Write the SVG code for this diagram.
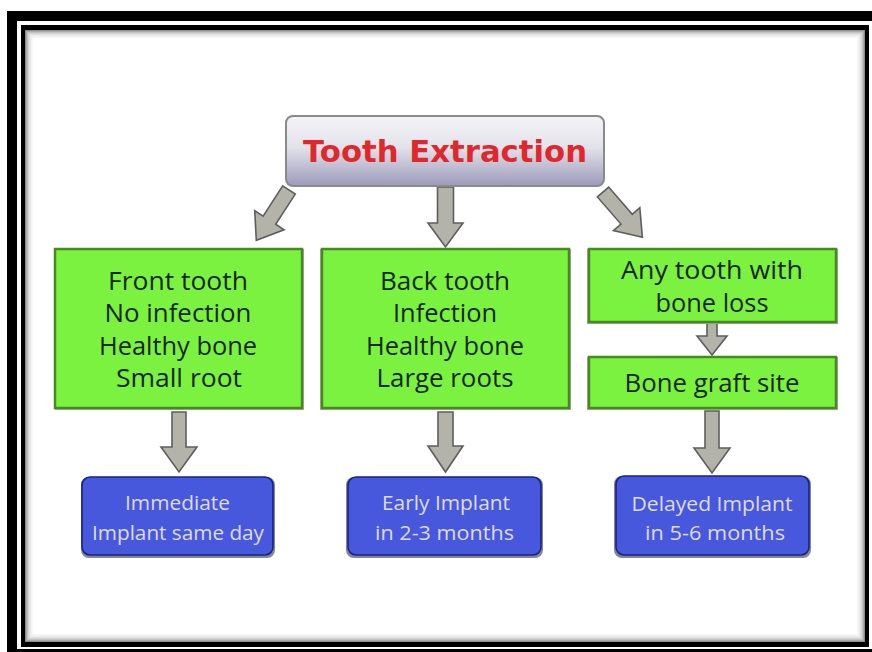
<svg xmlns="http://www.w3.org/2000/svg" width="872" height="652" viewBox="0 0 872 652">
<defs>
<linearGradient id="titleGrad" x1="0" y1="0" x2="0" y2="1">
<stop offset="0" stop-color="#f4f4f7"/>
<stop offset="0.45" stop-color="#e2e2ea"/>
<stop offset="1" stop-color="#9c9aba"/>
</linearGradient>
<style>
.arrow{fill:#b3b3a9;stroke:#5e5e5e;stroke-width:1.6;stroke-linejoin:miter}
.green{fill:#7cf240;stroke:#478a1e;stroke-width:2.5}
.gshadow{fill:#a8a8aa}
.blue{fill:#4858dc;stroke:#16228a;stroke-width:1.6}
.bshadow{fill:#86868e}
.gtext{font-family:"Open Sans","DejaVu Sans",sans-serif;font-size:25px;fill:#18260e;text-anchor:middle}
.btext{font-family:"Open Sans","DejaVu Sans",sans-serif;font-size:20px;fill:#dcdcf4;text-anchor:middle}
.ttext{font-family:"DejaVu Sans","Liberation Sans",sans-serif;font-size:30px;font-weight:bold;fill:#e0282c;text-anchor:middle}
.ring{fill:none;stroke:#000}
</style>
</defs>

<!-- frame -->
<g id="frame">
<rect x="7" y="11" width="865" height="641" fill="#000"/>
<rect x="17" y="21" width="855" height="628" fill="#fff"/>
<rect x="21" y="25" width="848" height="622" fill="#000"/>
<rect x="25" y="30" width="840" height="612" fill="#fff"/>
<rect class="ring" x="25.5" y="30.5" width="839" height="611" stroke-opacity="0.45"/>
<rect class="ring" x="26.5" y="31.5" width="837" height="609" stroke-opacity="0.33"/>
<rect class="ring" x="27.5" y="32.5" width="835" height="607" stroke-opacity="0.24"/>
<rect class="ring" x="28.5" y="33.5" width="833" height="605" stroke-opacity="0.17"/>
<rect class="ring" x="29.5" y="34.5" width="831" height="603" stroke-opacity="0.12"/>
<rect class="ring" x="30.5" y="35.5" width="829" height="601" stroke-opacity="0.08"/>
<rect class="ring" x="31.5" y="36.5" width="827" height="599" stroke-opacity="0.05"/>
<rect class="ring" x="32.5" y="37.5" width="825" height="597" stroke-opacity="0.03"/>
</g>

<!-- connectors -->
<g id="connectors">
<path class="arrow" transform="translate(289,190) rotate(33)" d="M-7.5,0 H7.5 V36 H17.5 L0,60 L-17.5,36 H-7.5 Z"/>
<path class="arrow" transform="translate(603,192) rotate(-41)" d="M-7.5,0 H7.5 V36 H17.5 L0,60 L-17.5,36 H-7.5 Z"/>
<path class="arrow" d="M437.5,187 H453.5 V223 H463 L445.5,247 L428,223 H437.5 Z"/>
<path class="arrow" d="M172,412 H186 V447 H197 L179,472 L161,447 H172 Z"/>
<path class="arrow" d="M438,412 H453 V446 H463 L445.5,472 L428,446 H438 Z"/>
<path class="arrow" d="M705,411 H719 V448 H730 L712,473 L694,448 H705 Z"/>
<path class="arrow" d="M707,323 H717 V336 H727 L712,355 L697,336 H707 Z"/>
</g>

<!-- title -->
<g id="tooth-extraction">
<rect x="286" y="116" width="318" height="70" rx="7" fill="url(#titleGrad)" stroke="#8a8a8a" stroke-width="2"/>
<text class="ttext" x="445" y="162" textLength="284" lengthAdjust="spacingAndGlyphs">Tooth Extraction</text>
</g>

<!-- green boxes -->
<g id="front-tooth">
<rect class="gshadow" x="55" y="249" width="249" height="161"/>
<rect class="green" x="55" y="249" width="247" height="159"/>
<text class="gtext" x="178" y="290" textLength="140" lengthAdjust="spacingAndGlyphs">Front tooth</text>
<text class="gtext" x="178" y="322" textLength="147" lengthAdjust="spacingAndGlyphs">No infection</text>
<text class="gtext" x="178" y="355" textLength="158" lengthAdjust="spacingAndGlyphs">Healthy bone</text>
<text class="gtext" x="179" y="387" textLength="126" lengthAdjust="spacingAndGlyphs">Small root</text>
</g>

<g id="back-tooth">
<rect class="gshadow" x="320" y="249" width="251" height="161"/>
<rect class="green" x="322" y="249" width="247" height="159"/>
<text class="gtext" x="445" y="290" textLength="130" lengthAdjust="spacingAndGlyphs">Back tooth</text>
<text class="gtext" x="445" y="322" textLength="104" lengthAdjust="spacingAndGlyphs">Infection</text>
<text class="gtext" x="445" y="355" textLength="158" lengthAdjust="spacingAndGlyphs">Healthy bone</text>
<text class="gtext" x="445" y="387" textLength="137" lengthAdjust="spacingAndGlyphs">Large roots</text>
</g>

<g id="any-tooth">
<rect class="gshadow" x="587" y="249" width="251" height="75"/>
<rect class="green" x="589" y="249" width="247" height="73"/>
<text class="gtext" x="712" y="279" textLength="182" lengthAdjust="spacingAndGlyphs">Any tooth with</text>
<text class="gtext" x="712" y="312" textLength="113" lengthAdjust="spacingAndGlyphs">bone loss</text>
</g>

<g id="bone-graft">
<rect class="gshadow" x="587" y="357" width="251" height="53"/>
<rect class="green" x="589" y="357" width="247" height="51"/>
<text class="gtext" x="712" y="392" textLength="175" lengthAdjust="spacingAndGlyphs">Bone graft site</text>
</g>

<!-- blue boxes -->
<g id="immediate-implant">
<rect class="bshadow" x="81" y="477" width="194" height="81" rx="8"/>
<rect class="blue" x="82" y="477" width="191" height="78" rx="8"/>
<text class="btext" x="177.5" y="510" textLength="105" lengthAdjust="spacingAndGlyphs">Immediate</text>
<text class="btext" x="178" y="540" textLength="172" lengthAdjust="spacingAndGlyphs">Implant same day</text>
</g>

<g id="early-implant">
<rect class="bshadow" x="346" y="477" width="197" height="81" rx="8"/>
<rect class="blue" x="348" y="477" width="193" height="78" rx="8"/>
<text class="btext" x="446" y="510" textLength="128" lengthAdjust="spacingAndGlyphs">Early Implant</text>
<text class="btext" x="444.5" y="540" textLength="139" lengthAdjust="spacingAndGlyphs">in 2-3 months</text>
</g>

<g id="delayed-implant">
<rect class="bshadow" x="614" y="476" width="197" height="82" rx="8"/>
<rect class="blue" x="616" y="476" width="193" height="79" rx="8"/>
<text class="btext" x="712" y="511" textLength="161" lengthAdjust="spacingAndGlyphs">Delayed Implant</text>
<text class="btext" x="715" y="540" textLength="140" lengthAdjust="spacingAndGlyphs">in 5-6 months</text>
</g>
</svg>
